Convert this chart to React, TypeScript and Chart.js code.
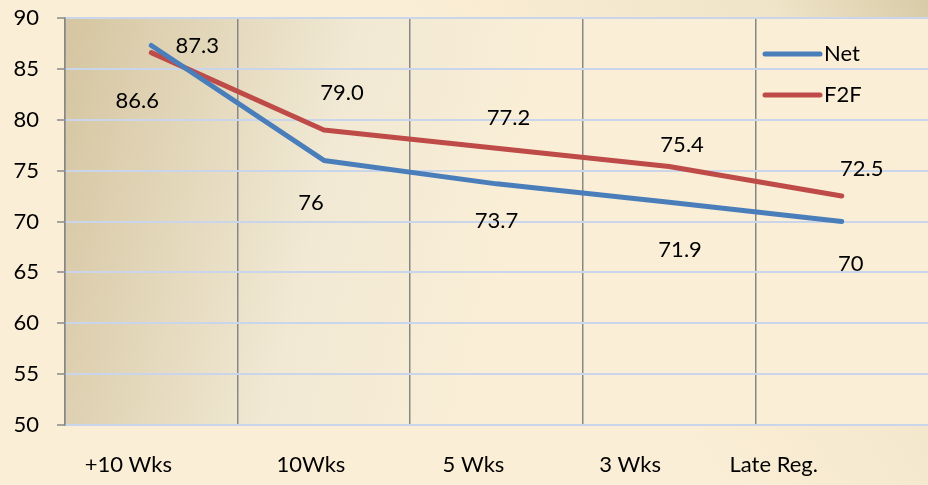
import React, { useEffect, useRef } from "react";
import { Chart, registerables } from "chart.js";

Chart.register(...registerables);

const categories = ["+10 Wks", "10Wks", "5 Wks", "3 Wks", "Late Reg."];
const netValues = [87.3, 76, 73.7, 71.9, 70];
const f2fValues = [86.6, 79.0, 77.2, 75.4, 72.5];
const netLabels = ["87.3", "76", "73.7", "71.9", "70"];
const f2fLabels = ["86.6", "79.0", "77.2", "75.4", "72.5"];
const yTicks = { min: 50, max: 90, step: 5 };

// label placement styling (pixel offsets from the point)
const netLabelOffsets = [[46, 0], [-13, 42], [0, 37], [11, 48], [9, 42]];
const f2fLabelOffsets = [[-14, 48], [18, -37], [12, -30], [13, -22], [20, -27]];
const xLabelOffsets = [-23, -13, -23, -39, -68];

const FONT = "Lato, 'Open Sans', sans-serif";
const BLUE = "#4a7ebb";
const RED = "#be4b48";

export default function App() {
  const ref = useRef<HTMLCanvasElement | null>(null);
  useEffect(() => {
    document.body.style.margin = "0";
    const canvas = ref.current!;
    const bgPlugin = {
      id: "bg",
      beforeDraw(chart: any) {
        const { ctx, chartArea: a, width, height } = chart;
        ctx.save();
        const g = ctx.createLinearGradient(width, 0, width * 0.6, height * 0.5);
        g.addColorStop(0, "#d8cba7");
        g.addColorStop(0.3, "#efe4c8");
        g.addColorStop(1, "#fbeed6");
        ctx.fillStyle = g;
        ctx.fillRect(0, 0, width, height);
        const g2 = ctx.createLinearGradient(a.left, a.top, a.left + 470, a.top + 110);
        g2.addColorStop(0, "#d5c5a0");
        g2.addColorStop(0.6, "#f1e9d4");
        g2.addColorStop(1, "#faeed6");
        ctx.fillStyle = g2;
        ctx.fillRect(a.left, a.top, width - a.left, a.bottom - a.top);
        ctx.restore();
      },
    };
    const textPlugin = {
      id: "texts",
      afterDatasetsDraw(chart: any) {
        const { ctx, chartArea: a } = chart;
        ctx.save();
        ctx.font = `22px ${FONT}`;
        ctx.fillStyle = "#000";
        ctx.textAlign = "center";
        ctx.textBaseline = "middle";
        const sets = [
          { labels: netLabels, offs: netLabelOffsets },
          { labels: f2fLabels, offs: f2fLabelOffsets },
        ];
        sets.forEach((s, di) => {
          const meta = chart.getDatasetMeta(di);
          meta.data.forEach((pt: any, i: number) => {
            ctx.fillText(s.labels[i], pt.x + s.offs[i][0], pt.y + s.offs[i][1]);
          });
        });
        const xs = chart.scales.x;
        categories.forEach((c, i) => {
          ctx.fillText(c, xs.getPixelForValue(i) + xLabelOffsets[i], a.bottom + 40);
        });
        const items = [
          { name: "Net", color: BLUE },
          { name: "F2F", color: RED },
        ];
        items.forEach((it, i) => {
          const y = a.top + 36 + i * 41;
          ctx.strokeStyle = it.color;
          ctx.lineWidth = 5;
          ctx.lineCap = "round";
          ctx.beginPath();
          ctx.moveTo(a.right - 163, y);
          ctx.lineTo(a.right - 108, y);
          ctx.stroke();
          ctx.textAlign = "left";
          ctx.fillText(it.name, a.right - 104, y);
        });
        ctx.restore();
      },
    };
    const chart = new Chart(canvas, {
      type: "line",
      data: {
        labels: categories,
        datasets: [
          { label: "Net", data: netValues, borderColor: BLUE, borderWidth: 5, pointRadius: 0, tension: 0, borderCapStyle: "round", borderJoinStyle: "round" },
          { label: "F2F", data: f2fValues, borderColor: RED, borderWidth: 5, pointRadius: 0, tension: 0, borderCapStyle: "round", borderJoinStyle: "round" },
        ],
      },
      options: {
        animation: false,
        responsive: false,
        layout: { padding: { top: 18, right: 0, left: 0, bottom: 0 } },
        plugins: { legend: { display: false }, tooltip: { enabled: false } },
        scales: {
          x: {
            offset: true,
            grid: {
              offset: true,
              color: (c: any) => (c.type === "tick" ? "#878787" : "rgba(0,0,0,0)"),
              lineWidth: 1.5,
              drawTicks: false,
            },
            border: { display: false },
            ticks: { display: false },
            afterFit(s: any) { s.height = 60; s.paddingLeft = 0; s.paddingRight = 0; },
          },
          y: {
            min: yTicks.min,
            max: yTicks.max,
            ticks: { stepSize: yTicks.step, color: "#000", font: { family: FONT, size: 22 }, padding: 18 },
            grid: { color: "#c9d5ea", lineWidth: 2, tickColor: "#888", tickLength: 8, tickWidth: 1.5 },
            border: { display: true, color: "#888", width: 1.5 },
            afterFit(s: any) { s.width = 65; s.paddingTop = 0; s.paddingBottom = 0; },
          },
        },
      },
      plugins: [bgPlugin, textPlugin],
    });
    return () => chart.destroy();
  }, []);
  return <canvas ref={ref} width={928} height={485} style={{ display: "block" }} />;
}
